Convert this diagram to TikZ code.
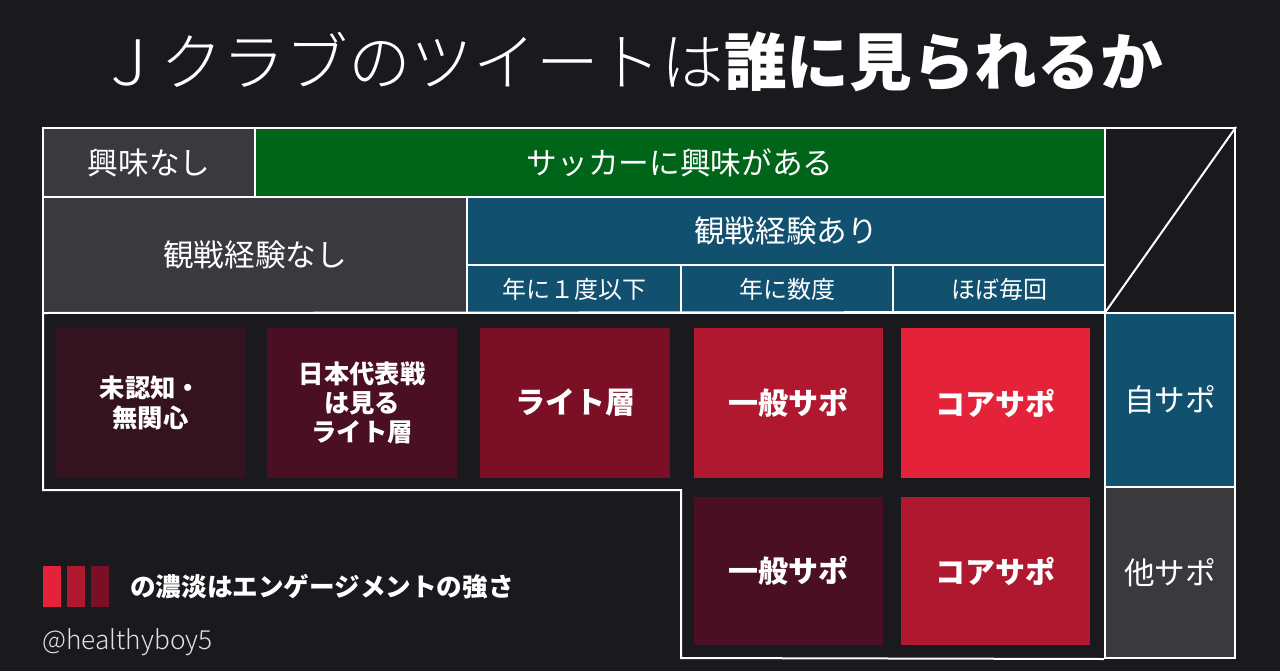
\documentclass[tikz,border=0pt]{standalone}
\usepackage{fontspec}
\setmainfont{Noto Sans CJK JP}
\IfFontExistsTF{Noto Sans CJK JP Light}{\newfontfamily\lightjp{Noto Sans CJK JP Light}}{\newfontfamily\lightjp{Noto Sans CJK JP}}
\IfFontExistsTF{Noto Sans CJK JP Black}{\newfontfamily\blackjp{Noto Sans CJK JP Black}}{\newfontfamily\blackjp{Noto Sans CJK JP}[UprightFont={* Bold}]}
\usetikzlibrary{fit}
\definecolor{bg}{RGB}{26,25,30}
\definecolor{cgray}{RGB}{58,57,62}
\definecolor{cgreen}{RGB}{0,100,25}
\definecolor{cblue}{RGB}{17,80,110}
\definecolor{rA}{RGB}{52,19,31}
\definecolor{rB}{RGB}{74,15,35}
\definecolor{rC}{RGB}{122,15,37}
\definecolor{rD}{RGB}{176,24,48}
\definecolor{rE}{RGB}{228,34,58}
\definecolor{handlegray}{RGB}{225,225,228}
\begin{document}
\begin{tikzpicture}[x=0.75pt,y=-0.75pt,
  frameline/.style={draw=white, line width=1.5pt},
  cell/.style={inner sep=0pt, fill=#1, frameline},
  rbox/.style={inner sep=0pt, fill=#1},
  celltext/.style={inner sep=0pt, text=white, align=center, font=\fontsize{23}{27}\selectfont},
  subtext/.style={celltext, font=\fontsize{18}{22}\selectfont},
  boxtext/.style={celltext, font=\blackjp\fontsize{22.5}{26}\selectfont},
  boxtextsmall/.style={celltext, font=\blackjp\fontsize{19}{22}\selectfont},
  legendbar/.style={inner sep=0pt, fill=#1}]
\useasboundingbox (0,0) rectangle (1280,671);
\fill[bg] (0,0) rectangle (1280,671);
% title
\node[text=white, font=\fontsize{47}{52}\selectfont] (title) at (630,62) {{\lightjp Ｊクラブのツイートは}{\blackjp 誰に見られるか}};
% header rows
\node[cell=cgray, fit={(43,128)(255,197)}] (nokyomi) {};
\node[cell=cgreen, fit={(255,128)(1105,197)}] (kyomi) {};
\node[cell=cgray, fit={(43,197)(467,313)}] (nokansen) {};
\node[cell=cblue, fit={(467,197)(1105,265)}] (kansen) {};
\node[cell=cblue, fit={(467,265)(681,313)}] (nen1) {};
\node[cell=cblue, fit={(681,265)(893,313)}] (nensu) {};
\node[cell=cblue, fit={(893,265)(1105,313)}] (maikai) {};
\node[cell=bg, fit={(1105,128)(1235,313)}] (corner) {};
\draw[frameline] (corner.south west) -- (corner.north east);
\node[celltext] (nokyomi-t) at (nokyomi.center) {興味なし};
\node[celltext] (kyomi-t) at (kyomi.center) {サッカーに興味がある};
\node[celltext] (nokansen-t) at (nokansen.center) {観戦経験なし};
\node[celltext] (kansen-t) at (kansen.center) {観戦経験あり};
\node[subtext] (nen1-t) at (nen1.center) {年に１度以下};
\node[subtext] (nensu-t) at (nensu.center) {年に数度};
\node[subtext] (maikai-t) at (maikai.center) {ほぼ毎回};
% right column
\node[cell=cblue, fit={(1105,313)(1235,487)}] (jisapo) {};
\node[cell=cgray, fit={(1105,487)(1235,658)}] (tasapo) {};
\node[celltext] (jisapo-t) at (jisapo.center) {自サポ};
\node[celltext] (tasapo-t) at (tasapo.center) {他サポ};
% lower frame
\coordinate (fa) at (43,313);
\coordinate (fb) at (43,490);
\coordinate (fc) at (681,490);
\coordinate (fd) at (681,658);
\draw[frameline] (fa) -- (fb) -- (fc) -- (fd) -- (tasapo.south west);
\draw[frameline] (fa) -- (jisapo.north west);
% red boxes row 1
\node[rbox=rA, fit={(56,328)(245,478)}] (mininchi) {};
\node[rbox=rB, fit={(267,328)(457,478)}] (nihon) {};
\node[rbox=rC, fit={(480,328)(670,478)}] (light) {};
\node[rbox=rD, fit={(694,328)(883,478)}] (ippan1) {};
\node[rbox=rE, fit={(901,328)(1090,478)}] (core1) {};
% red boxes row 2
\node[rbox=rB, fit={(694,497)(883,645)}] (ippan2) {};
\node[rbox=rD, fit={(901,497)(1090,645)}] (core2) {};
\node[boxtextsmall] (mininchi-t) at (mininchi.center) {未認知・\\無関心};
\node[boxtextsmall] (nihon-t) at (nihon.center) {日本代表戦\\は見る\\ライト層};
\node[boxtext] (light-t) at (light.center) {ライト層};
\node[boxtext] (ippan1-t) at (ippan1.center) {一般サポ};
\node[boxtext] (core1-t) at (core1.center) {コアサポ};
\node[boxtext] (ippan2-t) at (ippan2.center) {一般サポ};
\node[boxtext] (core2-t) at (core2.center) {コアサポ};
% legend
\node[legendbar=rE, fit={(43,566)(61,607)}] (bar1) {};
\node[legendbar=rD, fit={(67,566)(85,607)}] (bar2) {};
\node[legendbar=rC, fit={(91,566)(109,607)}] (bar3) {};
\node[anchor=west, inner sep=0pt, text=white, font=\blackjp\fontsize{19.2}{23}\selectfont] (legend) at (130,587) {の濃淡はエンゲージメントの強さ};
\node[anchor=west, inner sep=0pt, text=handlegray, font=\lightjp\fontsize{19.7}{23}\selectfont] (handle) at (42,642) {@healthyboy5};
\end{tikzpicture}
\end{document}
